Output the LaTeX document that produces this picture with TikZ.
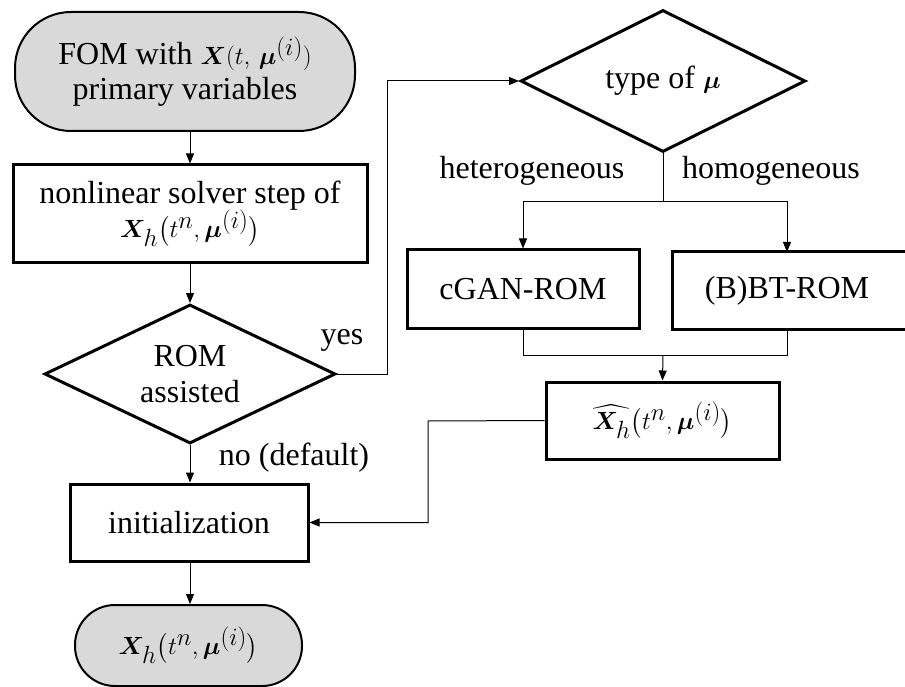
\documentclass[tikz,border=0pt]{standalone}
\usepackage{amsmath}
\usepackage{bm}
\usepackage{fontspec}
\setmainfont{Liberation Serif}
\usetikzlibrary{shapes.geometric,arrows.meta,calc}
\definecolor{termgray}{HTML}{D9D9D9}
\newcommand\mth[1]{{\fontsize{34}{36}\selectfont$#1$}}
\begin{document}
\begin{tikzpicture}[x=1pt,y=-1pt,
  every node/.style={font=\fontsize{32}{36}\selectfont, inner sep=0pt, align=center},
  term/.style={draw, line width=2pt, fill=termgray},
  boxnode/.style={draw, line width=3pt},
  dia/.style={diamond, draw, line width=3pt, aspect=2.1},
  lbl/.style={font=\fontsize{32}{36}\selectfont},
  conn/.style={line width=1pt},
  arr/.style={conn, -{Triangle[length=10pt,width=8pt]}}
]
\useasboundingbox (0,0) rectangle (905,687);

% nodes
\node[term, rounded corners=56pt, minimum width=340pt, minimum height=119pt] (fom) at (185,71.5)
  {FOM with \mth{\bm{X}(t,\,\bm{\mu}^{(i)})}\\[-1pt]primary variables};
\node[boxnode, minimum width=354pt, minimum height=97pt] (solver) at (190,213.5)
  {nonlinear solver step of\\[-2pt]\mth{\bm{X}_h\bigl(t^n,\bm{\mu}^{(i)}\bigr)}};
\node[dia, minimum width=291pt, minimum height=139pt] (dec1) at (190,374)
  {ROM\\assisted};
\node[boxnode, minimum width=238pt, minimum height=77pt] (init) at (189,522.5)
  {initialization};
\node[term, rounded corners=40pt, minimum width=227pt, minimum height=81pt] (fin) at (188.5,645.5)
  {\mth{\bm{X}_h\bigl(t^n,\bm{\mu}^{(i)}\bigr)}};
\node[dia, minimum width=285pt, minimum height=142pt] (dec2) at (663,81)
  {type of \mth{\bm{\mu}}};
\node[boxnode, minimum width=232pt, minimum height=78pt] (cgan) at (523,289)
  {cGAN-ROM};
\node[boxnode, minimum width=240pt, minimum height=77pt] (bbt) at (792,290.5)
  {\hspace*{-10pt}(B)BT-ROM};
\node[boxnode, minimum width=233pt, minimum height=77pt] (xhat) at (662.5,420.5)
  {\mth{\widehat{\bm{X}_h}\bigl(t^n,\bm{\mu}^{(i)}\bigr)}};

% labels
\node[lbl] (yes) at (342,340) {yes};
\node[lbl] (nodef) at (294,458) {no (default)};
\node[lbl] (het) at (532,171) {heterogeneous};
\node[lbl] (hom) at (771,171) {homogeneous};

% helper coordinates
\coordinate (ycorner) at (387,374);
\coordinate (split) at (663,202);
\coordinate (bbtin) at (787,252);
\coordinate (join) at (663,355);
\coordinate (bbtout) at (787,329);
\coordinate (xcorner) at (428,421);

% connectors
\draw[arr] (fom.south -| solver.north) -- (solver.north);
\draw[arr] (solver.south) -- (dec1.north);
\draw[arr] (dec1.east) -- (ycorner) |- (dec2.west);
\draw[conn] (dec2.south) -- (split);
\draw[arr] (split) -| (cgan.north);
\draw[arr] (split) -| (bbtin);
\draw[conn] (cgan.south) |- (join);
\draw[conn] (bbtout) |- (join);
\draw[arr] (join) -- (xhat.north);
\draw[arr] (xhat.west) -- (xcorner) |- (init.east);
\draw[arr] (dec1.south) -- (dec1.south |- init.north);
\draw[arr] (init.south -| dec1.south) -- (fin.north -| dec1.south);
\end{tikzpicture}
\end{document}
